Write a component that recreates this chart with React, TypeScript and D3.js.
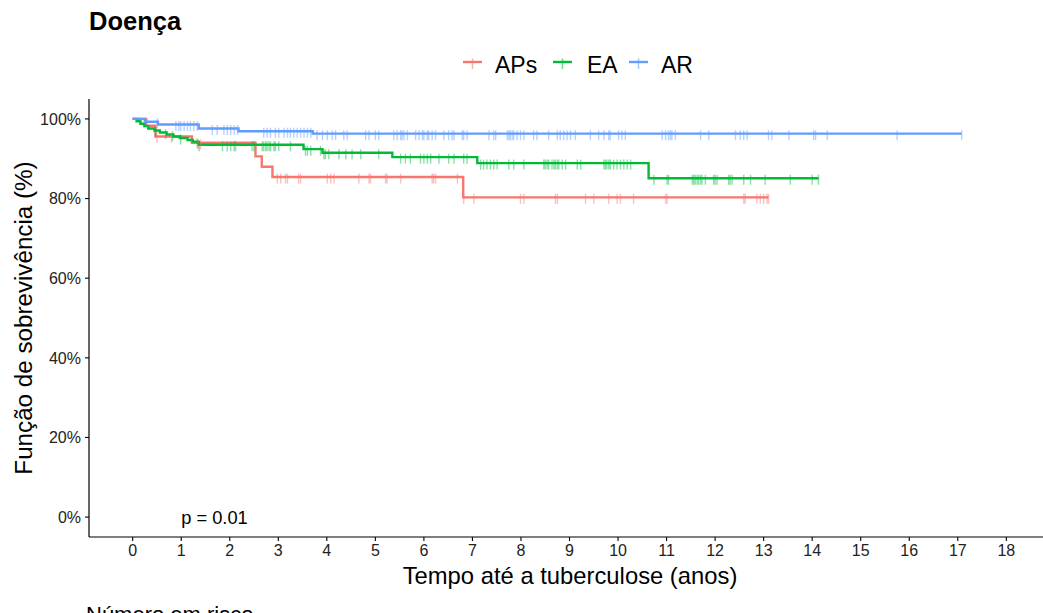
import React from 'react';
import * as d3 from 'd3';

// ---------- data ----------
const groupNames = ['APs', 'EA', 'AR'];
const groupColors = ['#F8766D', '#00BA38', '#619CFF'];

const apsTimes = [0, 0.27, 0.47, 1.22, 2.53, 2.66, 2.88, 6.81];
const apsSurv = [100, 98.3, 95.6, 94.0, 90.6, 88.0, 85.4, 80.3];
const apsEnd = 13.1;
const apsCensor = [0.5, 0.8, 1.35, 1.4, 2.98, 3.05, 3.15, 3.19, 3.42, 3.46, 4.01, 4.08, 4.15, 4.66, 4.87, 4.9, 5.21, 5.24, 5.52, 6.17, 6.2, 6.24, 6.69, 6.82, 7.03, 7.99, 8.06, 8.71, 8.75, 9.33, 9.5, 9.81, 9.98, 10.05, 10.32, 10.98, 11.01, 12.59, 12.62, 12.86, 12.93, 13.0, 13.07, 13.1];

const eaTimes = [0, 0.08, 0.16, 0.24, 0.32, 0.45, 0.56, 0.7, 0.84, 0.97, 1.13, 1.24, 1.36, 3.52, 3.91, 5.35, 7.1, 10.63];
const eaSurv = [100, 99.4, 98.8, 98.2, 97.6, 97.1, 96.6, 96.1, 95.6, 95.2, 94.7, 94.3, 93.5, 92.4, 91.5, 90.4, 88.9, 85.1];
const eaEnd = 14.13;
const eaCensor = [0.47, 0.68, 0.82, 0.99, 1.33, 1.37, 1.85, 1.95, 2.02, 2.09, 2.12, 2.46, 2.5, 2.67, 2.7, 2.74, 2.77, 2.81, 2.84, 2.91, 2.94, 3.01, 3.25, 3.56, 3.6, 3.67, 3.87, 3.94, 3.97, 4.04, 4.25, 4.39, 4.52, 4.7, 5.07, 5.52, 5.62, 5.72, 5.93, 6.0, 6.07, 6.14, 6.31, 6.51, 6.62, 6.82, 6.89, 7.17, 7.23, 7.3, 7.37, 7.44, 7.51, 7.75, 7.85, 8.06, 8.47, 8.5, 8.54, 8.57, 8.64, 8.68, 8.71, 8.75, 8.78, 8.85, 8.92, 9.16, 9.23, 9.71, 9.74, 9.77, 9.81, 9.84, 9.91, 9.98, 10.05, 10.12, 10.19, 10.26, 10.74, 11.01, 11.04, 11.53, 11.56, 11.59, 11.63, 11.66, 11.7, 11.73, 11.8, 11.97, 12.0, 12.04, 12.28, 12.31, 12.35, 12.59, 12.73, 13.03, 13.55, 14.0, 14.13];

const arTimes = [0, 0.25, 0.52, 1.36, 2.18, 3.71];
const arSurv = [100, 99.3, 98.6, 97.6, 96.9, 96.3];
const arEnd = 17.08;
const arCensor = [0.3, 0.51, 0.89, 0.95, 0.99, 1.06, 1.13, 1.19, 1.26, 1.33, 1.64, 1.74, 1.88, 1.95, 2.02, 2.09, 2.16, 2.7, 2.77, 2.84, 2.94, 3.01, 3.12, 3.19, 3.25, 3.32, 3.39, 3.46, 3.53, 3.6, 3.67, 3.8, 3.91, 4.01, 4.11, 4.18, 4.35, 4.42, 4.8, 4.87, 5.0, 5.07, 5.38, 5.45, 5.52, 5.55, 5.59, 5.66, 5.83, 5.9, 5.97, 6.0, 6.07, 6.1, 6.17, 6.24, 6.41, 6.51, 6.58, 6.62, 6.79, 6.82, 6.89, 7.34, 7.44, 7.48, 7.72, 7.75, 7.78, 7.82, 7.85, 7.92, 7.99, 8.06, 8.26, 8.33, 8.57, 8.75, 8.81, 8.88, 8.95, 9.02, 9.12, 9.43, 9.6, 9.71, 9.81, 9.84, 10.01, 10.08, 10.15, 10.91, 10.98, 11.04, 11.08, 11.11, 11.18, 11.7, 11.87, 12.42, 12.52, 12.59, 12.66, 13.1, 13.17, 13.52, 14.03, 14.07, 14.31, 15.75, 17.08];

const xTickValues = [0, 1, 2, 3, 4, 5, 6, 7, 8, 9, 10, 11, 12, 13, 14, 15, 16, 17, 18];
const yTickValues = [0, 20, 40, 60, 80, 100];

const titleText = 'Doença';
const xTitle = 'Tempo até a tuberculose (anos)';
const yTitle = 'Função de sobrevivência (%)';
const pText = 'p = 0.01';
const riskTitle = 'Número em risco';

// ---------- layout ----------
const W = 1043;
const H = 613;
const FONT = '"Liberation Sans", Arial, sans-serif';
const panel = { left: 89, right: 1050, top: 99, bottom: 537 };

const series = [
  { times: apsTimes, surv: apsSurv, end: apsEnd, censor: apsCensor },
  { times: eaTimes, surv: eaSurv, end: eaEnd, censor: eaCensor },
  { times: arTimes, surv: arSurv, end: arEnd, censor: arCensor },
];

const legendPos = [
  { key: 463, text: 495 },
  { key: 553, text: 587 },
  { key: 629, text: 661 },
];

function survAt(times: number[], surv: number[], t: number) {
  let v = surv[0];
  for (let i = 0; i < times.length; i++) if (times[i] <= t) v = surv[i];
  return v;
}

export default function App() {
  const x = d3.scaleLinear().domain([-0.9, 18.9]).range([panel.left, panel.right]);
  const y = d3.scaleLinear().domain([-5, 105]).range([panel.bottom, panel.top]);
  const line = d3
    .line<[number, number]>()
    .x((d) => x(d[0]))
    .y((d) => y(d[1]))
    .curve(d3.curveStepAfter);

  return (
    <svg
      width={W}
      height={H}
      style={{ position: 'absolute', left: 0, top: 0, background: '#fff' }}
      fontFamily={FONT}
    >
      <rect x={0} y={0} width={W} height={H} fill="#fff" />
      <text x={89} y={30} fontSize={25.5} fontWeight="bold" fill="#000">
        {titleText}
      </text>

      {/* legend */}
      {groupNames.map((g, i) => (
        <g key={g}>
          <line x1={legendPos[i].key} x2={legendPos[i].key + 19} y1={62} y2={62} stroke={groupColors[i]} strokeWidth={2.4} />
          <line x1={legendPos[i].key + 9.5} x2={legendPos[i].key + 9.5} y1={58.5} y2={69} stroke={groupColors[i]} strokeWidth={1.5} opacity={0.55} />
          <text x={legendPos[i].text} y={73} fontSize={23} fill="#000">
            {g}
          </text>
        </g>
      ))}

      {/* curves */}
      {series.map((s, i) => {
        const pts: [number, number][] = s.times.map((t, k) => [t, s.surv[k]] as [number, number]);
        pts.push([s.end, s.surv[s.surv.length - 1]]);
        return (
          <path key={'l' + i} d={line(pts) || ''} fill="none" stroke={groupColors[i]} strokeWidth={2.4} />
        );
      })}
      {series.map((s, i) => (
        <g key={'c' + i}>
          {s.censor.map((t, k) => {
            const cy = y(survAt(s.times, s.surv, t));
            return (
              <line
                key={k}
                x1={x(t)}
                x2={x(t)}
                y1={cy - 3.5}
                y2={cy + 6.5}
                stroke={groupColors[i]}
                strokeWidth={1.4}
                opacity={0.45}
              />
            );
          })}
        </g>
      ))}

      {/* axes */}
      <line x1={panel.left} x2={panel.left} y1={panel.top} y2={panel.bottom} stroke="#000" strokeWidth={1.2} />
      <line x1={panel.left} x2={W} y1={panel.bottom} y2={panel.bottom} stroke="#000" strokeWidth={1.2} />
      {yTickValues.map((v) => (
        <g key={'y' + v}>
          <line x1={panel.left - 4} x2={panel.left} y1={y(v)} y2={y(v)} stroke="#000" strokeWidth={1.1} />
          <text x={panel.left - 8} y={y(v) + 5.8} fontSize={16} textAnchor="end" fill="#222">
            {v + '%'}
          </text>
        </g>
      ))}
      {xTickValues.map((v) => (
        <g key={'x' + v}>
          <line x1={x(v)} x2={x(v)} y1={panel.bottom} y2={panel.bottom + 4} stroke="#000" strokeWidth={1.1} />
          <text x={x(v)} y={556} fontSize={16} textAnchor="middle" fill="#222">
            {v}
          </text>
        </g>
      ))}

      <text x={570} y={584} fontSize={23.8} textAnchor="middle" fill="#000">
        {xTitle}
      </text>
      <text
        transform={`translate(32, ${(panel.top + panel.bottom) / 2}) rotate(-90)`}
        fontSize={24.2}
        textAnchor="middle"
        fill="#000"
      >
        {yTitle}
      </text>

      <text x={x(1)} y={524} fontSize={18.3} fill="#000">
        {pText}
      </text>

      <text x={86} y={622} fontSize={22} fill="#000">
        {riskTitle}
      </text>
    </svg>
  );
}
